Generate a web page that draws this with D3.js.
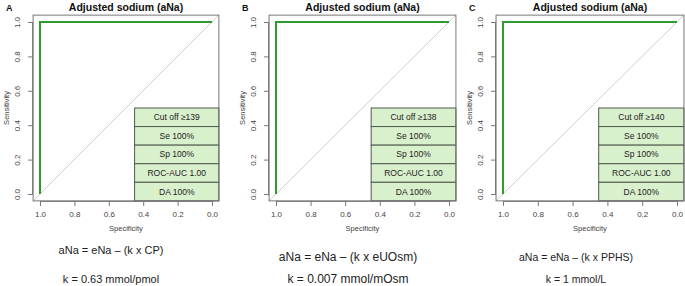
<!DOCTYPE html>
<html>
<head>
<meta charset="utf-8">
<script src="https://cdn.jsdelivr.net/npm/d3@7"></script>
<style>
  body { margin: 0; background: #fff; }
  svg { display: block; }
  text { font-family: "Liberation Sans", Arial, sans-serif; }
</style>
</head>
<body>
<div id="chart"></div>
<script>
// ROC curve (same for all three panels)
const rocSpec = [1, 1, 0];
const rocSens = [0, 1, 1];
const tickValues = [0, 0.2, 0.4, 0.6, 0.8, 1.0];

const panelLetters = ["A", "B", "C"];
const panelTitle = "Adjusted sodium (aNa)";
const cutoffs = ["Cut off \u2265139", "Cut off \u2265138", "Cut off \u2265140"];
const seValues = ["Se 100%", "Se 100%", "Se 100%"];
const spValues = ["Sp 100%", "Sp 100%", "Sp 100%"];
const aucValues = ["ROC-AUC 1.00", "ROC-AUC 1.00", "ROC-AUC 1.00"];
const daValues = ["DA 100%", "DA 100%", "DA 100%"];
const formulas = ["aNa = eNa \u2013 (k x CP)", "aNa = eNa \u2013 (k x eUOsm)", "aNa = eNa \u2013 (k x PPHS)"];
const kValues = ["k = 0.63 mmol/pmol", "k = 0.007 mmol/mOsm", "k = 1 mmol/L"];

// layout: pixel position of specificity 1 and 0 for each panel
const panelX = [[40, 212], [276, 449], [503, 677]];
const formulaY = [250, 257, 257];
const formulaX = [111, 348, 576];
const formulaSize = [11, 12, 10.5];

const W = 685, H = 286;
const yTop = 22, yBot = 194;

const svg = d3.select("#chart").append("svg")
  .attr("width", W).attr("height", H);

panelLetters.forEach((letter, i) => {
  const x = d3.scaleLinear().domain([1, 0]).range(panelX[i]);
  const y = d3.scaleLinear().domain([0, 1]).range([yBot, yTop]);
  // R style 4% extension
  const bx0 = x(1.04), bx1 = x(-0.04), by0 = y(1.04), by1 = y(-0.04);
  const cx = (bx0 + bx1) / 2;

  const g = svg.append("g");

  const clipId = "clip" + i;
  g.append("clipPath").attr("id", clipId)
    .append("rect").attr("x", bx0).attr("y", by0)
    .attr("width", bx1 - bx0).attr("height", by1 - by0);

  // diagonal reference
  g.append("line")
    .attr("clip-path", `url(#${clipId})`)
    .attr("x1", x(1.04)).attr("y1", y(-0.04))
    .attr("x2", x(-0.04)).attr("y2", y(1.04))
    .attr("stroke", "#cfcfcf").attr("stroke-width", 1);

  // legend table
  const rows = [cutoffs[i], seValues[i], spValues[i], aucValues[i], daValues[i]];
  const lx0 = x(0.45), lx1 = bx1;
  const ly0 = y(0.5), ly1 = by1;
  const rh = (ly1 - ly0) / rows.length;
  rows.forEach((r, j) => {
    g.append("rect")
      .attr("x", lx0).attr("y", ly0 + j * rh)
      .attr("width", lx1 - lx0).attr("height", rh)
      .attr("fill", "#d9f0cd").attr("stroke", "#4f5a4c").attr("stroke-width", 1);
    g.append("text")
      .attr("x", (lx0 + lx1) / 2).attr("y", ly0 + j * rh + rh / 2)
      .attr("dy", "0.35em").attr("text-anchor", "middle")
      .attr("font-size", "8.5px").attr("fill", "#222")
      .text(r);
  });

  // ROC line
  const line = d3.line().x(d => x(d[0])).y(d => y(d[1]));
  g.append("path")
    .datum(rocSpec.map((s, k) => [s, rocSens[k]]))
    .attr("d", line)
    .attr("fill", "none")
    .attr("stroke", "#2f9a2f").attr("stroke-width", 2);

  // box
  g.append("rect")
    .attr("x", bx0).attr("y", by0)
    .attr("width", bx1 - bx0).attr("height", by1 - by0)
    .attr("fill", "none").attr("stroke", "#777").attr("stroke-width", 1);

  // x axis
  const gx = g.append("g")
    .attr("transform", `translate(0,${by1})`)
    .call(d3.axisBottom(x).tickValues(tickValues).tickSize(5).tickPadding(5)
      .tickFormat(d3.format(".1f")));
  gx.select(".domain").attr("stroke", "#777")
    .attr("d", `M${x(1)},0.5H${x(0)}`);
  gx.selectAll(".tick line").attr("stroke", "#777");
  gx.selectAll("text").attr("font-size", "8px").attr("fill", "#444")
    .attr("font-family", "Liberation Sans, Arial, sans-serif");

  // y axis
  const gy = g.append("g")
    .attr("transform", `translate(${bx0},0)`)
    .call(d3.axisLeft(y).tickValues(tickValues).tickSize(5).tickPadding(0)
      .tickFormat(d3.format(".1f")));
  gy.select(".domain").attr("stroke", "#777")
    .attr("d", `M-0.5,${y(0)}V${y(1)}`);
  gy.selectAll(".tick line").attr("stroke", "#777");
  gy.selectAll("text")
    .attr("font-size", "8px").attr("fill", "#444")
    .attr("font-family", "Liberation Sans, Arial, sans-serif")
    .attr("text-anchor", "middle")
    .attr("x", null).attr("dy", null)
    .attr("transform", "translate(-13,0) rotate(-90)");

  // axis labels
  g.append("text")
    .attr("x", cx).attr("y", 231)
    .attr("text-anchor", "middle").attr("font-size", "7.5px").attr("fill", "#444")
    .text("Specificity");
  g.append("text")
    .attr("transform", `translate(${bx0 - 24},${(by0 + by1) / 2}) rotate(-90)`)
    .attr("text-anchor", "middle").attr("font-size", "7.5px").attr("fill", "#444")
    .text("Sensitivity");

  // title and letter
  g.append("text")
    .attr("x", cx).attr("y", 11)
    .attr("text-anchor", "middle").attr("font-size", "10.5px")
    .attr("font-weight", "bold").attr("fill", "#111")
    .text(panelTitle);
  g.append("text")
    .attr("x", bx0 - 27).attr("y", 11)
    .attr("font-size", "9px").attr("font-weight", "bold").attr("fill", "#111")
    .text(letter);

  // formula lines
  g.append("text")
    .attr("x", formulaX[i]).attr("y", formulaY[i] + 4)
    .attr("text-anchor", "middle").attr("font-size", formulaSize[i] + "px").attr("fill", "#222")
    .attr("font-family", "Open Sans, sans-serif")
    .text(formulas[i]);
  g.append("text")
    .attr("x", formulaX[i]).attr("y", 283)
    .attr("text-anchor", "middle").attr("font-size", formulaSize[i] + "px").attr("fill", "#222")
    .attr("font-family", "Open Sans, sans-serif")
    .text(kValues[i]);
});
</script>
</body>
</html>
